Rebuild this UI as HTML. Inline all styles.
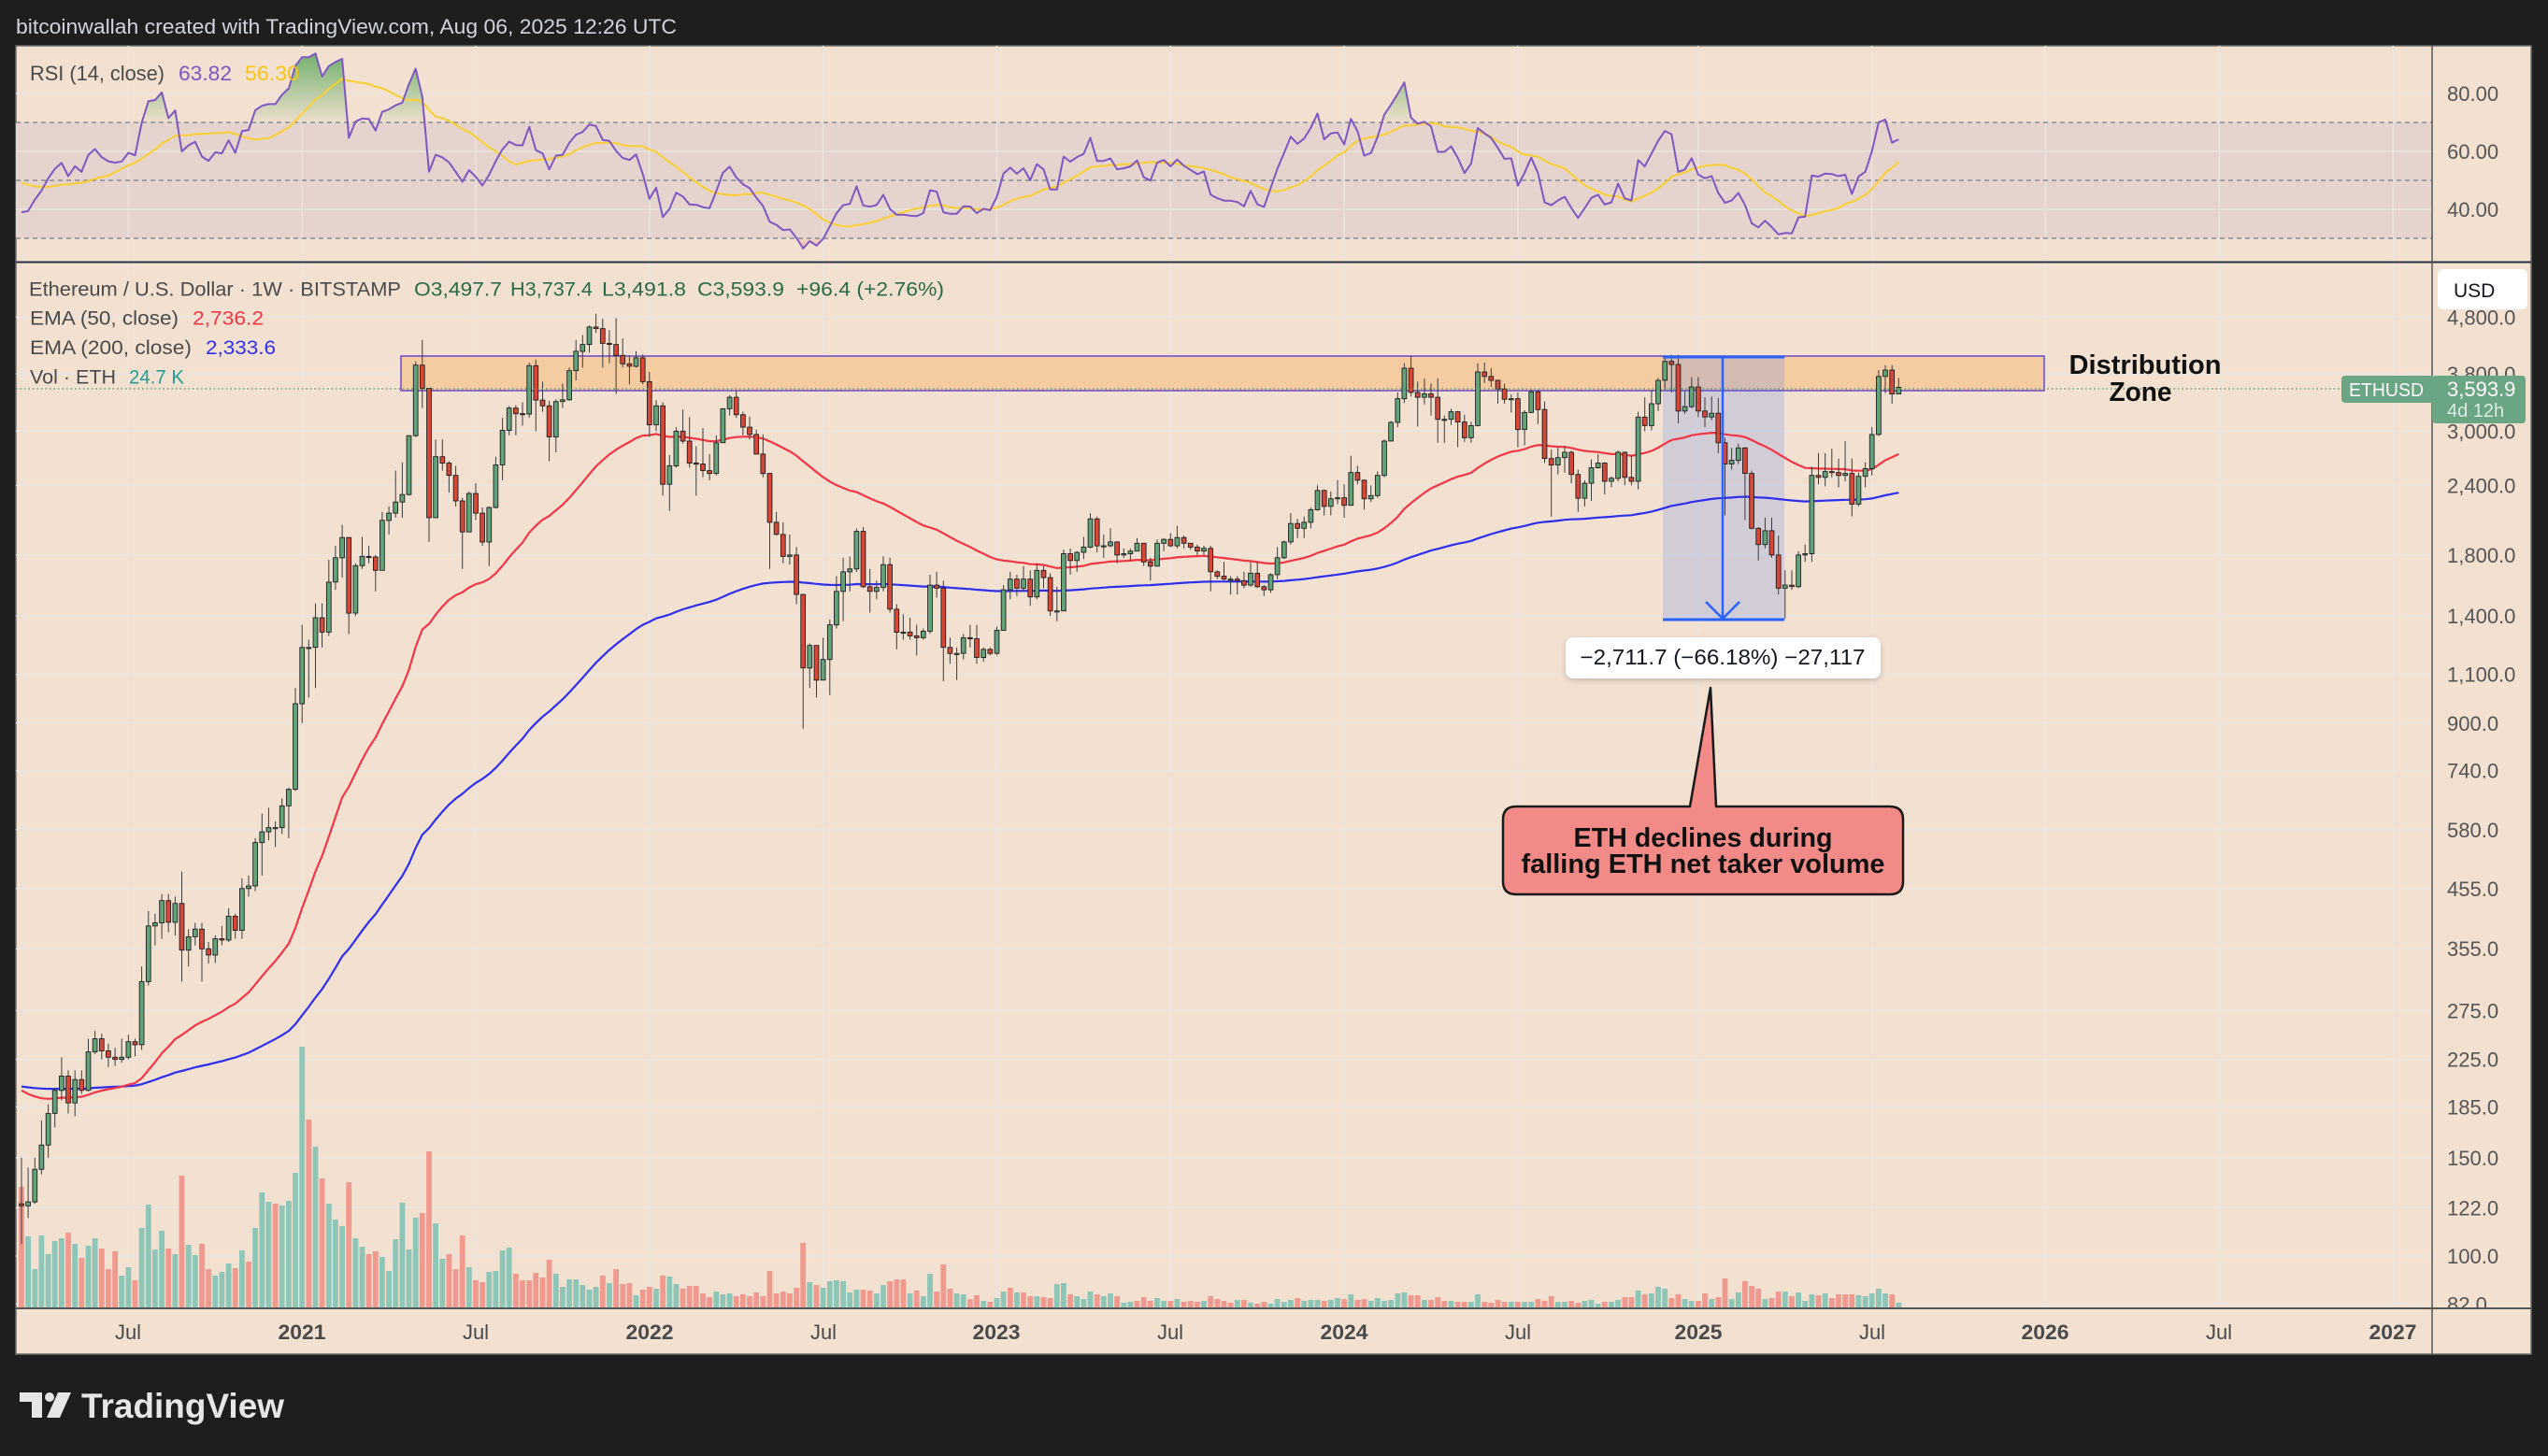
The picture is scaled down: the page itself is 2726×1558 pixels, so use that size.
<!DOCTYPE html>
<html><head><meta charset="utf-8">
<style>
html,body{margin:0;padding:0;background:#1e1e1e;}
svg{display:block;}
text{font-family:"Liberation Sans",Arial,sans-serif;}
</style></head>
<body>
<svg id="s" width="2726" height="1558" viewBox="0 0 2726 1558" xmlns="http://www.w3.org/2000/svg">
<defs>
 <clipPath id="cm"><rect x="17" y="281" width="2585" height="1119"/></clipPath>
 <clipPath id="cr"><rect x="17" y="49" width="2585" height="231"/></clipPath>
 <clipPath id="cob"><rect x="17" y="40" width="2585" height="91"/></clipPath>
 <clipPath id="cos"><rect x="17" y="255" width="2585" height="25"/></clipPath>
 <clipPath id="cax"><rect x="2602" y="281" width="106" height="1119"/></clipPath>
 <linearGradient id="gob" x1="0" y1="55" x2="0" y2="131" gradientUnits="userSpaceOnUse">
  <stop offset="0" stop-color="#43a047" stop-opacity="0.75"/>
  <stop offset="1" stop-color="#43a047" stop-opacity="0.03"/>
 </linearGradient>
 <linearGradient id="gos" x1="0" y1="255" x2="0" y2="280" gradientUnits="userSpaceOnUse">
  <stop offset="0" stop-color="#e53935" stop-opacity="0.05"/>
  <stop offset="1" stop-color="#e53935" stop-opacity="0.6"/>
 </linearGradient>
 <filter id="sh" x="-10%" y="-30%" width="120%" height="160%"><feDropShadow dx="0" dy="2" stdDeviation="3" flood-color="#000" flood-opacity="0.18"/></filter>
</defs>

<rect width="2726" height="1558" fill="#1e1e1e"/>
<text x="17" y="36" font-size="22.5" fill="#d1d4dc" textLength="707" lengthAdjust="spacingAndGlyphs">bitcoinwallah created with TradingView.com, Aug 06, 2025 12:26 UTC</text>

<rect x="17" y="49" width="2691" height="1400" fill="#f2e0d0" stroke="#6b6b6b" stroke-width="1.5"/>
<rect x="17" y="131" width="2585" height="124" fill="#e5d3cd"/>

<g id="grid" stroke="#ebe4df" stroke-width="1.5"></g>

<g stroke="#787b86" stroke-width="1.3" stroke-dasharray="5,4">
 <line x1="17" y1="131" x2="2602" y2="131"/>
 <line x1="17" y1="193" x2="2602" y2="193"/>
 <line x1="17" y1="255" x2="2602" y2="255"/>
</g>

<g clip-path="url(#cr)">
 <path id="rob" clip-path="url(#cob)" fill="url(#gob)" d=""/>
 <path id="ros" clip-path="url(#cos)" fill="url(#gos)" d=""/>
 <path id="rma" fill="none" stroke="#f9d030" stroke-width="2" d=""/>
 <path id="rsi" fill="none" stroke="#7e57c2" stroke-width="2" stroke-linejoin="round" d=""/>
</g>

<text x="32" y="86" font-size="22" fill="#4a4a4a" textLength="144" lengthAdjust="spacingAndGlyphs">RSI (14, close)</text>
<text x="191" y="86" font-size="22" fill="#7e57c2" textLength="57" lengthAdjust="spacingAndGlyphs">63.82</text>
<text x="262" y="86" font-size="22" fill="#f5c518" textLength="58" lengthAdjust="spacingAndGlyphs">56.30</text>

<line x1="17" y1="280.5" x2="2708" y2="280.5" stroke="#2c3040" stroke-width="2"/>

<g clip-path="url(#cm)">
 <g id="vol"></g>
 <rect x="429" y="381" width="1758" height="37" fill="#f5cca2" stroke="#7452c4" stroke-width="1.6"/>
 <rect x="1779" y="382" width="130" height="281" fill="rgba(41,98,255,0.16)"/>
 <path id="e200" fill="none" stroke="#2f2ff0" stroke-width="2.2" d=""/>
 <path id="e50" fill="none" stroke="#f23645" stroke-width="2.2" d=""/>
 <g id="cdl"></g>
 <g stroke="#2962ff" fill="none">
  <line x1="1779" y1="382" x2="1909" y2="382" stroke-width="3"/>
  <line x1="1779" y1="663" x2="1909" y2="663" stroke-width="3"/>
  <line x1="1843" y1="382" x2="1843" y2="662" stroke-width="2.5"/>
  <polyline points="1825,644 1843,662 1861,644" stroke-width="2.5"/>
 </g>
 <line x1="17" y1="416" x2="2602" y2="416" stroke="#3f8f5e" stroke-width="1.2" stroke-dasharray="1.5,3"/>
</g>

<!-- legend -->
<text x="31" y="316.5" font-size="21.5" fill="#4a4a4a" textLength="398" lengthAdjust="spacingAndGlyphs">Ethereum / U.S. Dollar · 1W · BITSTAMP</text>
<g font-size="21.5" fill="#2a6b47">
<text x="443" y="316.5" textLength="94" lengthAdjust="spacingAndGlyphs">O3,497.7</text>
<text x="546" y="316.5" textLength="88" lengthAdjust="spacingAndGlyphs">H3,737.4</text>
<text x="644" y="316.5" textLength="90" lengthAdjust="spacingAndGlyphs">L3,491.8</text>
<text x="746" y="316.5" textLength="93" lengthAdjust="spacingAndGlyphs">C3,593.9</text>
<text x="852" y="316.5" textLength="158" lengthAdjust="spacingAndGlyphs">+96.4 (+2.76%)</text>
</g>
<text x="32" y="347.5" font-size="21.5" fill="#4a4a4a" textLength="159" lengthAdjust="spacingAndGlyphs">EMA (50, close)</text>
<text x="206" y="347.5" font-size="21.5" fill="#f23645" textLength="76" lengthAdjust="spacingAndGlyphs">2,736.2</text>
<text x="32" y="379" font-size="21.5" fill="#4a4a4a" textLength="173" lengthAdjust="spacingAndGlyphs">EMA (200, close)</text>
<text x="220" y="379" font-size="21.5" fill="#2f2ff0" textLength="75" lengthAdjust="spacingAndGlyphs">2,333.6</text>
<text x="32" y="410.5" font-size="21.5" fill="#4a4a4a" textLength="92" lengthAdjust="spacingAndGlyphs">Vol · ETH</text>
<text x="138" y="410.5" font-size="21.5" fill="#22a094" textLength="59" lengthAdjust="spacingAndGlyphs">24.7 K</text>

<!-- distribution zone label -->
<text x="2295" y="400" font-size="28.5" font-weight="bold" fill="#111" text-anchor="middle" textLength="163" lengthAdjust="spacingAndGlyphs">Distribution</text>
<text x="2290" y="429" font-size="28.5" font-weight="bold" fill="#111" text-anchor="middle" textLength="67" lengthAdjust="spacingAndGlyphs">Zone</text>

<!-- measure label -->
<rect x="1675" y="682" width="337" height="44" rx="8" fill="#ffffff" filter="url(#sh)"/>
<text x="1843" y="711" font-size="23" fill="#131722" text-anchor="middle" textLength="305" lengthAdjust="spacingAndGlyphs">−2,711.7 (−66.18%) −27,117</text>

<!-- callout -->
<path d="M1622 863 L1808 863 L1830 736 L1836 863 L2022 863 Q2036 863 2036 877 L2036 943 Q2036 957 2022 957 L1622 957 Q1608 957 1608 943 L1608 877 Q1608 863 1622 863 Z" fill="#f28b87" stroke="#1a1a1a" stroke-width="2.5" stroke-linejoin="round"/>
<text x="1822" y="906" font-size="28.5" font-weight="bold" fill="#111" text-anchor="middle" textLength="277" lengthAdjust="spacingAndGlyphs">ETH declines during</text>
<text x="1822" y="934" font-size="28.5" font-weight="bold" fill="#111" text-anchor="middle" textLength="389" lengthAdjust="spacingAndGlyphs">falling ETH net taker volume</text>

<!-- axes -->
<line x1="2602" y1="49" x2="2602" y2="1449" stroke="#555" stroke-width="1.5"/>
<g font-size="22" fill="#555">
<text x="2618" y="108">80.00</text>
<text x="2618" y="170">60.00</text>
<text x="2618" y="232">40.00</text>
</g>
<g font-size="22" fill="#555" clip-path="url(#cax)">
<text x="2618" y="347.4">4,800.0</text>
<text x="2618" y="408.1">3,800.0</text>
<text x="2618" y="469.4">3,000.0</text>
<text x="2618" y="527.3">2,400.0</text>
<text x="2618" y="601.9">1,800.0</text>
<text x="2618" y="667.2">1,400.0</text>
<text x="2618" y="729.7">1,100.0</text>
<text x="2618" y="781.8">900.0</text>
<text x="2618" y="832.6">740.0</text>
<text x="2618" y="895.8">580.0</text>
<text x="2618" y="958.8">455.0</text>
<text x="2618" y="1023.2">355.0</text>
<text x="2618" y="1089.5">275.0</text>
<text x="2618" y="1141.6">225.0</text>
<text x="2618" y="1192.4">185.0</text>
<text x="2618" y="1246.8">150.0</text>
<text x="2618" y="1300.4">122.0</text>
<text x="2618" y="1352">100.0</text>
<text x="2618" y="1403.5">82.0</text>
</g>
<rect x="2608" y="288" width="96" height="43" rx="6" fill="#ffffff"/>
<text x="2625" y="318" font-size="21" fill="#131722">USD</text>

<rect x="2505" y="402" width="100" height="29" rx="4" fill="#6aa584"/>
<text x="2513" y="424" font-size="20" fill="#ffffff" textLength="80" lengthAdjust="spacingAndGlyphs">ETHUSD</text>
<rect x="2602" y="402" width="100" height="51" rx="4" fill="#6aa584"/>
<text x="2618" y="424" font-size="22" fill="#ffffff">3,593.9</text>
<text x="2618" y="446" font-size="20" fill="#dcefe3">4d 12h</text>

<line x1="17" y1="1400" x2="2708" y2="1400" stroke="#555" stroke-width="2"/>
<g font-size="22" fill="#4a4a4a" text-anchor="middle">
<text x="137" y="1433">Jul</text>
<text x="323" y="1433" font-weight="bold" textLength="51" lengthAdjust="spacingAndGlyphs">2021</text>
<text x="509" y="1433">Jul</text>
<text x="695" y="1433" font-weight="bold" textLength="51" lengthAdjust="spacingAndGlyphs">2022</text>
<text x="881" y="1433">Jul</text>
<text x="1066" y="1433" font-weight="bold" textLength="51" lengthAdjust="spacingAndGlyphs">2023</text>
<text x="1252" y="1433">Jul</text>
<text x="1438" y="1433" font-weight="bold" textLength="51" lengthAdjust="spacingAndGlyphs">2024</text>
<text x="1624" y="1433">Jul</text>
<text x="1817" y="1433" font-weight="bold" textLength="51" lengthAdjust="spacingAndGlyphs">2025</text>
<text x="2003" y="1433">Jul</text>
<text x="2188" y="1433" font-weight="bold" textLength="51" lengthAdjust="spacingAndGlyphs">2026</text>
<text x="2374" y="1433">Jul</text>
<text x="2560" y="1433" font-weight="bold" textLength="51" lengthAdjust="spacingAndGlyphs">2027</text>
</g>

<!-- logo -->
<g fill="#e6e6e6">
 <path d="M21 1490 H45 V1517 H34 V1500 H21 Z"/>
 <circle cx="53" cy="1495" r="5"/>
 <path d="M62 1490 H76 L64 1517 H50 Z"/>
</g>
<text x="87" y="1517" font-size="37" font-weight="bold" fill="#e6e6e6" textLength="217" lengthAdjust="spacingAndGlyphs">TradingView</text>
</svg>

<script>
(function(){
var D=[
[123,150,105],[125,144,117],[143,150,124],[158,175,140],[180,187,150],[198,200,170],[210,227,190],[188,215,180],[207,215,178],[198,215,195],
[232,245,197],[245,253,230],[233,250,225],[227,240,218],[225,236,219],[227,245,222],[242,249,225],[239,245,228],[310,330,234],[390,415,305],
[395,410,360],[433,445,370],[396,445,380],[428,440,375],[353,488,310],[373,385,330],[385,395,360],[355,395,310],[346,365,334],[370,375,335],
[368,390,360],[406,420,365],[383,410,370],[455,475,370],[460,480,440],[550,560,450],[575,620,480],[585,635,555],[585,600,540],[640,660,570],
[685,690,560],[975,1040,680],[1230,1350,900],[1230,1270,1000],[1390,1475,1040],[1310,1475,1230],[1610,1765,1290],[1780,1870,1560],[1935,2040,1640],[1417,1935,1300],
[1723,1740,1400],[1790,1940,1700],[1786,1870,1740],[1690,1800,1550],[2077,2150,1690],[2140,2200,1960],[2240,2550,2100],[2310,2640,2100],[2945,2950,2300],[3940,4000,2930],
[3580,4370,3300],[2100,3580,1900],[2700,2900,2150],[2630,2900,2550],[2500,2650,2330],[2250,2600,2200],[1980,2280,1700],[2320,2340,1980],[2140,2420,2080],[1900,2190,1870],
[2190,2200,1720],[2610,2700,2180],[3010,3170,2450],[3300,3330,2950],[3225,3340,2950],[3220,3380,3070],[3930,3980,3170],[3410,4030,3000],[3330,3680,3250],[2930,3400,2650],
[3390,3420,2750],[3415,3650,3300],[3850,3900,3400],[4170,4370,3700],[4290,4460,3900],[4610,4640,4150],[4580,4870,4500],[4310,4770,3900],[4290,4550,3970],[4100,4780,3500],
[3960,4400,3900],[3920,4100,3640],[4060,4170,3900],[3680,4120,3640],[3080,3830,2930],[3330,3410,3000],[2410,3380,2300],[2600,2720,2160],[3000,3050,2580],[2880,3280,2850],
[2630,3180,2580],[2620,2820,2300],[2550,3040,2480],[2520,2730,2450],[2860,2950,2500],[3290,3300,2860],[3450,3480,3200],[3210,3550,3170],[3050,3250,2950],[2960,3190,2900],
[2730,3020,2730],[2520,2960,2480],[2060,2520,1700],[1960,2150,1950],[1790,2060,1740],[1800,1960,1730],[1530,1860,1470],[1130,1530,880],[1240,1250,1040],[1075,1230,1000],
[1170,1280,1080],[1350,1380,1010],[1550,1650,1330],[1680,1780,1370],[1700,1790,1550],[1985,2010,1680],[1580,2020,1570],[1550,1700,1420],[1575,1620,1500],[1730,1790,1550],
[1440,1780,1420],[1310,1470,1220],[1310,1410,1270],[1290,1390,1270],[1280,1350,1190],[1315,1330,1270],[1590,1660,1300],[1570,1680,1510],[1230,1620,1070],[1200,1280,1150],
[1200,1230,1075],[1280,1300,1170],[1275,1350,1230],[1180,1350,1150],[1220,1230,1160],[1200,1230,1190],[1320,1340,1190],[1560,1590,1320],[1630,1680,1500],[1570,1660,1520],
[1630,1720,1550],[1515,1690,1460],[1690,1740,1500],[1640,1720,1570],[1430,1670,1400],[1430,1580,1370],[1810,1840,1430],[1760,1850,1660],[1820,1830,1680],[1860,1940,1770],
[2090,2140,1850],[1870,2110,1820],[1870,1960,1780],[1900,2010,1860],[1800,1900,1740],[1810,1850,1780],[1830,1850,1760],[1890,1930,1830],[1750,1880,1720],[1720,1780,1620],
[1890,1920,1720],[1920,1930,1830],[1870,1970,1860],[1935,2030,1850],[1890,1950,1850],[1860,1890,1840],[1830,1880,1800],[1850,1870,1800],[1680,1870,1550],[1650,1690,1630],
[1630,1750,1620],[1630,1650,1530],[1620,1650,1530],[1590,1680,1570],[1670,1750,1580],[1580,1750,1570],[1560,1590,1520],[1660,1670,1540],[1780,1860,1630],[1900,1910,1770],
[2050,2140,1880],[2010,2090,1930],[2060,2110,1930],[2170,2190,2010],[2350,2400,2160],[2200,2360,2120],[2270,2340,2120],[2280,2450,2220],[2210,2410,2100],[2530,2710,2230],
[2450,2600,2410],[2270,2460,2170],[2300,2400,2240],[2500,2540,2280],[2880,2900,2480],[3110,3130,2880],[3430,3520,3050],[3890,3970,3370],[3520,4090,3460],[3450,3680,3060],
[3500,3730,3350],[3450,3650,3200],[3150,3730,2860],[3150,3200,2860],[3250,3290,3080],[3115,3260,2810],[2920,3210,2870],[3070,3120,2860],[3830,3970,3060],[3760,3980,3660],
[3700,3890,3600],[3570,3710,3360],[3420,3650,3360],[3430,3490,3240],[3020,3520,2810],[3240,3270,2830],[3530,3560,3230],[3280,3560,3090],[2680,3390,2630],[2610,2780,2110],
[2690,2800,2510],[2750,2820,2530],[2510,2770,2420],[2275,2560,2150],[2420,2450,2200],[2580,2670,2250],[2630,2730,2570],[2440,2640,2310],[2470,2490,2380],[2750,2770,2440],
[2480,2760,2400],[2440,2720,2400],[3180,3250,2360],[3070,3450,3000],[3360,3550,3010],[3700,3740,3260],[4000,4090,3560],[3950,4110,3520],[3260,4110,3100],[3320,3540,3220],
[3600,3750,3300],[3260,3750,3180],[3180,3450,3050],[3230,3460,3140],[2860,3440,2740],[2620,2920,2120],[2660,2800,2560],[2800,2850,2620],[2520,2810,2080],[2010,2550,2000],
[1880,2020,1760],[1990,2100,1850],[1800,2100,1780],[1570,1950,1530],[1590,1690,1385],[1580,1690,1560],[1800,1830,1570],[1810,1880,1750],[2500,2590,1750],[2480,2740,2410],
[2540,2740,2390],[2530,2790,2480],[2500,2680,2380],[2520,2880,2440],[2220,2680,2110],[2490,2530,2200],[2570,2640,2380],[2960,3050,2500],[3760,3860,2940],[3860,3940,3510],
[3497.7,3940,3360],[3593.9,3737.4,3491.8]
];
var V9=[570,729,834,726,786,744,735,717,753,798,759,735,768,834,777,855,828,870,702,627,771,711,768,786,534,756,789,753,834,855,843,816,831,774,810,702,588,618,624,630,615,525,120,354,441,543,624,675,696,555,735,762,786,777,795,840,738,621,771,669,654,456,687,801,786,834,726,828,870,876,843,840,774,765,849,870,870,846,861,804,849,891,867,867,885,900,891,855,879,834,882,879,918,900,891,897,855,858,882,897,888,888,912,924,906,915,912,921,915,921,909,921,840,912,906,912,894,750,876,885,894,873,870,873,909,900,900,903,912,885,873,867,867,912,903,921,849,906,819,897,912,915,930,918,936,939,927,906,894,909,909,909];
var C9="rttttttrtr"+"ttrrrttrtt"+"ttrtrttrrt"+"ttrtrtttrt"+"tttrtrtttr"+"ttrrtttttt"+"rrttrrrtrr"+"ttttrrrrrr"+"tttttttrtr"+"rrtrrtrttr"+"rrrrtttrrr"+"rrrrrrrrtr"+"ttttttrrtt"+"rrrtrttrrr"+"ttrrtrttrt"+"rt";
var V10=[441,441,444,447,402,399,435,441,450,426,435,441,432,441,462,459,456,444,456,447,456,456,450,459,456,459,456,441,450,456,462,453,453,462,465,459,465,450,459,453,447,456,453,453,456,453,447,450,435,453,450,456,447,456,453,432,429,438,438,453,453,444,456,456,459,459,459,435,459,462,453,459,459,459,459,459,450,456,441,459,459,456,462,456,453,465,459,459,453,444,444,423,435,432,411,417,447,435,450,456,456,432,450,444,384,450,429,393,408,417,450,447,426,426,441,429,456,435,438,432,447,435,435,435,438,441,432,417,432,435,462];
var C10="rtrrttrttt"+"rttrttrrrt"+"trtrrrtrrr"+"rtrtrrtttt"+"rtttrttrtr"+"rttttttrrt"+"rrrtrrttrr"+"rrtrttrrrt"+"trrtttrttr"+"rtrtttrrtt"+"rrtrrttrrr"+"trrtrtttrt"+"rrrrtttttr"+"t";
function X(i){return 23+7.147*i;}
function Y(p){return 1344-259.5*Math.log(p/100);}
function RY(r){return 193-(r-50)*3.1;}
function f(v){return v.toFixed(1);}
var n=D.length,C=[],O=[],i,k;
for(i=0;i<n;i++){C.push(D[i][0]);O.push(i==0?124:D[i-1][0]);}
/* grid */
var gh='',vx=[16,42,68,94,120,146,172,198,224,251,277,303,329,355];
for(k=0;k<vx.length;k++){var x=f(X(vx[k]));gh+='<line x1="'+x+'" y1="49" x2="'+x+'" y2="1400"/>';}
[100,162,224].forEach(function(y){gh+='<line x1="17" y1="'+y+'" x2="2602" y2="'+y+'"/>';});
[4800,3800,3000,2400,1800,1400,1100,900,740,580,455,355,275,225,185,150,122,100,82].forEach(function(p){var y=f(Y(p));gh+='<line x1="17" y1="'+y+'" x2="2602" y2="'+y+'"/>';});
document.getElementById('grid').innerHTML=gh;
/* RSI */
var ag=9,al=14,prev=124,rsi=[];
for(i=0;i<n;i++){var ch=C[i]-prev;prev=C[i];ag=(ag*13+Math.max(ch,0))/14;al=(al*13+Math.max(-ch,0))/14;rsi.push(100-100/(1+ag/al));}
var ma=[];for(i=0;i<n;i++){var s=0;for(k=i-13;k<=i;k++){s+=(k<0?50:rsi[k]);}ma.push(s/14);}
var rp='',mp='';
for(i=0;i<n;i++){rp+=(i?'L':'M')+f(X(i))+','+f(RY(rsi[i]));mp+=(i?'L':'M')+f(X(i))+','+f(RY(ma[i]));}
document.getElementById('rsi').setAttribute('d',rp);
document.getElementById('rma').setAttribute('d',mp);
var body=rp.substring(1);
document.getElementById('rob').setAttribute('d','M'+f(X(0))+',131L'+body+'L'+f(X(n-1))+',131Z');
document.getElementById('ros').setAttribute('d','M'+f(X(0))+',255L'+body+'L'+f(X(n-1))+',255Z');
/* EMA */
var e50=201,e200=202,p50='',p200='';
for(i=0;i<n;i++){e50+=(C[i]-e50)*2/51;e200+=(C[i]-e200)*2/201;p50+=(i?'L':'M')+f(X(i))+','+f(Y(e50));p200+=(i?'L':'M')+f(X(i))+','+f(Y(e200));}
document.getElementById('e50').setAttribute('d',p50);
document.getElementById('e200').setAttribute('d',p200);
/* volume */
var vh='';
for(i=0;i<n;i++){var h,c;
 if(i<151){h=(957-V9[i])/3;c=C9.charAt(i);}else{h=(477-V10[i-151])/3;c=C10.charAt(i-151);}
 vh+='<rect x="'+f(X(i)-2.9)+'" y="'+f(1399-h)+'" width="5.8" height="'+f(h)+'" fill="'+(c=='r'?'#f0998f':'#8dc5b7')+'"/>';}
document.getElementById('vol').innerHTML=vh;
/* candles */
var ch2='';
for(i=0;i<n;i++){var o=O[i],cl=C[i],hi=Math.max(D[i][1],o,cl),lo=Math.min(D[i][2],o,cl),up=cl>=o,x=X(i);
 ch2+='<line x1="'+f(x)+'" y1="'+f(Y(hi))+'" x2="'+f(x)+'" y2="'+f(Y(lo))+'" stroke="#3b3b3b" stroke-width="1"/>';
 var t=Y(Math.max(o,cl)),b=Y(Math.min(o,cl)),hh=Math.max(b-t,1.2);
 ch2+='<rect x="'+f(x-2.4)+'" y="'+f(t)+'" width="4.8" height="'+f(hh)+'" fill="'+(up?'#62a37a':'#d4483a')+'" stroke="#1f1f1f" stroke-width="0.9"/>';}
document.getElementById('cdl').innerHTML=ch2;
})();
</script>
</body></html>
